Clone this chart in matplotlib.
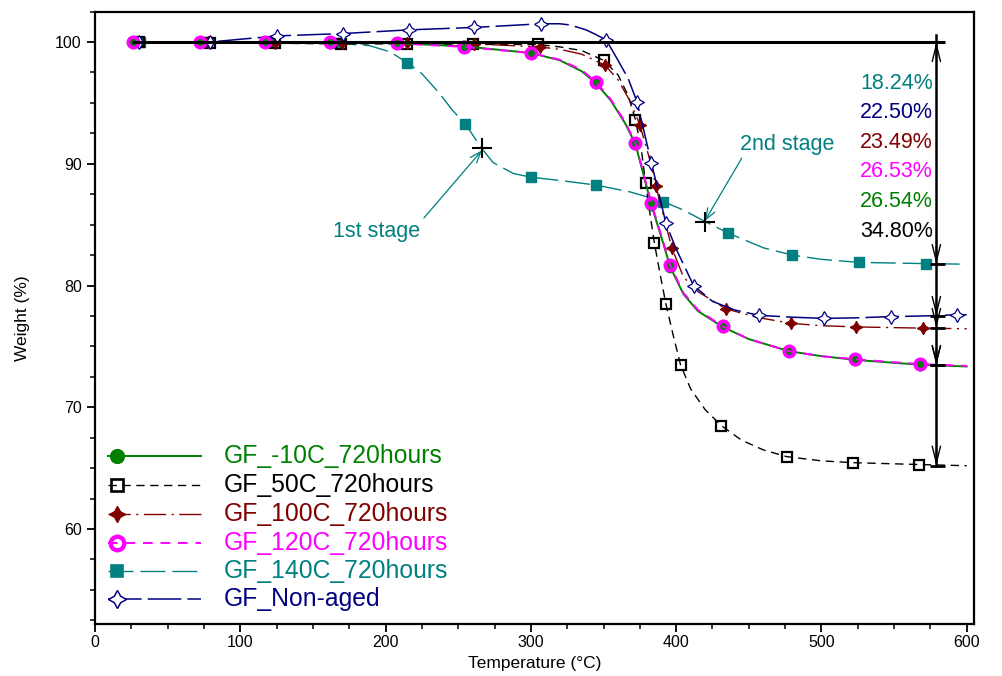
import matplotlib
matplotlib.use("Agg")
import matplotlib.pyplot as plt
from matplotlib.ticker import MultipleLocator

plt.rcParams['font.family'] = ['Liberation Sans', 'DejaVu Sans']

# ---------------- data ----------------
labels = ["GF_-10C_720hours", "GF_50C_720hours", "GF_100C_720hours",
          "GF_120C_720hours", "GF_140C_720hours", "GF_Non-aged"]

T_m10 = [26, 72, 117, 162, 208, 254, 300, 320, 335, 345, 355, 365, 372, 378, 383,
         390, 396, 405, 415, 432, 450, 478, 500, 523, 550, 568, 600]
W_m10 = [100, 100, 100, 99.95, 99.9, 99.65, 99.1, 98.5, 97.6, 96.6, 95.2, 93.3, 91.6,
         88.9, 86.6, 83.9, 81.5, 79.3, 77.9, 76.6, 75.6, 74.6, 74.2, 73.9, 73.65, 73.5, 73.35]
mk_m10 = [26, 72, 117, 162, 208, 254, 300, 345, 372, 383, 396, 432, 478, 523, 568]

T_50 = [30, 79, 124, 169, 215, 260, 305, 320, 335, 350, 360, 367, 372, 376, 379, 382,
        385, 389, 393, 398, 403, 410, 420, 431, 445, 460, 476, 500, 522, 567, 600]
W_50 = [100, 99.95, 99.9, 99.85, 99.85, 99.8, 99.8, 99.6, 99.3, 98.5, 97.3, 95.6, 93.6,
        91.2, 88.4, 85.9, 83.5, 80.9, 78.45, 75.9, 73.5, 71.5, 69.8, 68.5, 67.3, 66.5,
        65.95, 65.6, 65.45, 65.3, 65.2]
mk_50 = [30, 79, 124, 169, 215, 260, 305, 350, 372, 379, 385, 393, 403, 431, 476, 522, 567]

T_100 = [30, 78, 124, 170, 215, 261, 306, 320, 335, 351, 360, 368, 375, 381, 386, 392,
         397, 405, 415, 434, 455, 479, 500, 524, 570, 600]
W_100 = [100, 100, 99.95, 99.9, 99.9, 99.85, 99.6, 99.4, 99.0, 98.1, 96.9, 95.2, 93.2,
         90.7, 88.2, 85.4, 83.1, 80.7, 79.5, 78.1, 77.4, 76.9, 76.7, 76.6, 76.5, 76.45]
mk_100 = [30, 78, 124, 170, 215, 261, 306, 351, 375, 386, 397, 434, 479, 524, 570]

T_120 = [26, 72, 117, 162, 208, 254, 300, 320, 335, 345, 355, 365, 372, 378, 383,
         390, 396, 405, 415, 432, 450, 478, 500, 523, 550, 568, 600]
W_120 = [100, 100, 100, 100, 99.9, 99.6, 99.1, 98.55, 97.7, 96.7, 95.3, 93.4, 91.7,
         89.0, 86.75, 84.0, 81.65, 79.4, 78.0, 76.65, 75.6, 74.6, 74.2, 73.95, 73.7, 73.55, 73.4]
mk_120 = [26, 72, 117, 162, 208, 254, 300, 345, 372, 383, 396, 432, 478, 523, 568]

T_140 = [31, 77, 122, 167, 189, 203, 215, 225, 237, 246, 255, 266, 274, 288, 300, 322,
         345, 368, 391, 405, 420, 436, 460, 480, 500, 526, 572, 600]
W_140 = [100, 100, 100, 99.9, 99.7, 99.2, 98.3, 97.4, 95.8, 94.4, 93.25, 91.3, 90.1,
         89.2, 88.9, 88.6, 88.25, 87.7, 86.9, 86.2, 85.25, 84.3, 83.1, 82.5, 82.15, 81.9,
         81.8, 81.75]
mk_140 = [31, 77, 122, 167, 215, 255, 300, 345, 391, 436, 480, 526, 572]

T_na = [30, 79, 125, 171, 216, 261, 307, 320, 327, 338, 345, 352, 359, 367, 373, 378,
        383, 388, 393, 400, 412, 425, 440, 457, 480, 502, 525, 548, 570, 593, 600]
W_na = [100, 100.0, 100.5, 100.7, 101.0, 101.2, 101.5, 101.5, 101.4, 101.0, 100.6,
        100.15, 98.7, 97.0, 95.1, 92.6, 90.05, 87.6, 85.1, 83.0, 80.0, 78.7, 78.0, 77.55,
        77.4, 77.3, 77.35, 77.45, 77.5, 77.6, 77.6]
mk_na = [30, 79, 125, 171, 216, 261, 307, 352, 373, 383, 393, 412, 457, 502, 548, 593]

# onset points of the two degradation stages (140C sample)
stage_T = [266.3, 419.7]
stage_W = [91.3, 85.2]
stage_names = ["1st stage", "2nd stage"]

# residual levels and mass-loss labels (teal, navy, red, magenta, green, black)
resid_levels = [81.76, 77.50, 76.51, 73.47, 73.46, 65.20]
loss_labels = ["18.24%", "22.50%", "23.49%", "26.53%", "26.54%", "34.80%"]

# ---------------- styles ----------------
C_GREEN = "#008000"
C_BLACK = "#000000"
C_RED = "#800000"
C_MAG = "#FF00FF"
C_TEAL = "#008080"
C_NAVY = "#000080"
STAR4 = (4, 1, 0)

series = [
    dict(T=T_m10, W=W_m10, mk=mk_m10, color=C_GREEN, ls="-", lw=1.4,
         marker="o", ms=7.5, mfc=C_GREEN, mec=C_GREEN, mew=1, z=6),
    dict(T=T_50, W=W_50, mk=mk_50, color=C_BLACK, ls=(0, (6, 4)), lw=1.0,
         marker="s", ms=7, mfc="none", mec=C_BLACK, mew=1.6, z=4),
    dict(T=T_100, W=W_100, mk=mk_100, color=C_RED, ls=(0, (16, 4, 1.5, 4)), lw=1.0,
         marker=STAR4, ms=9, mfc=C_RED, mec=C_RED, mew=0.8, z=5),
    dict(T=T_120, W=W_120, mk=mk_120, color=C_MAG, ls=(0, (5, 4)), lw=1.4,
         marker="o", ms=7.5, mfc="none", mec=C_MAG, mew=2.6, z=7),
    dict(T=T_140, W=W_140, mk=mk_140, color=C_TEAL, ls=(0, (18, 5)), lw=1.0,
         marker="s", ms=6.5, mfc=C_TEAL, mec=C_TEAL, mew=1, z=3),
    dict(T=T_na, W=W_na, mk=mk_na, color=C_NAVY, ls=(0, (22, 4)), lw=1.1,
         marker=STAR4, ms=10, mfc="white", mec=C_NAVY, mew=0.9, z=5),
]

fig = plt.figure(figsize=(10.02, 6.76), dpi=100)
ax = fig.add_axes([95 / 1002, 52 / 676, 879 / 1002, 612.4 / 676])

for s in series:
    idx = [s["T"].index(t) for t in s["mk"]]
    ax.plot(s["T"], s["W"], color=s["color"], ls=s["ls"], lw=s["lw"],
            marker=s["marker"], markevery=idx, ms=s["ms"], mfc=s["mfc"],
            mec=s["mec"], mew=s["mew"], zorder=s["z"])

# onset crosses
ax.plot(stage_T, stage_W, ls="none", marker="+", ms=14, mew=1.5, color="black", zorder=9)

# stage annotations
ax.text(163.8, 84.4, stage_names[0], color=C_TEAL, fontsize=15.5, va="center", ha="left")
ax.annotate("", xy=(stage_T[0], stage_W[0] - 0.2), xytext=(226.4, 85.55),
            arrowprops=dict(arrowstyle="->,head_length=0.8,head_width=0.3",
                            color=C_TEAL, lw=0.9, shrinkA=0, shrinkB=0), zorder=8)
ax.text(443.8, 91.55, stage_names[1], color=C_TEAL, fontsize=15.5, va="center", ha="left")
ax.annotate("", xy=(stage_T[1], stage_W[1] + 0.1), xytext=(445.2, 90.47),
            arrowprops=dict(arrowstyle="->,head_length=0.8,head_width=0.3",
                            color=C_TEAL, lw=0.9, shrinkA=0, shrinkB=0), zorder=8)

# reference line at 100 % and the measurement bar
ax.plot([25.5, 585], [100, 100], color="black", lw=2.2, zorder=10, solid_capstyle="butt")
Tv = 579.1
ax.plot([Tv, Tv], [100.6, resid_levels[-1]], color="black", lw=1.8, zorder=10)
ax.annotate("", xy=(Tv, 100), xytext=(Tv, 98.6),
            arrowprops=dict(arrowstyle="->,head_length=1.2,head_width=0.3",
                            color="black", lw=1.0, shrinkA=0, shrinkB=0), zorder=10)
for lev in resid_levels:
    ax.annotate("", xy=(Tv, lev), xytext=(Tv, lev + 1.4),
                arrowprops=dict(arrowstyle="->,head_length=1.2,head_width=0.3",
                                color="black", lw=1.0, shrinkA=0, shrinkB=0), zorder=10)
    ax.plot([574.5, 585], [lev, lev], color="black", lw=2.0, zorder=10,
            solid_capstyle="butt")

label_colors = [C_TEAL, C_NAVY, C_RED, C_MAG, C_GREEN, C_BLACK]
for i, (txt, c) in enumerate(zip(loss_labels, label_colors)):
    ax.text(576.6, 96.62 - 2.43 * i, txt, color=c, fontsize=15.5,
            ha="right", va="center", zorder=11)

# manual legend (marker at the left end of each sample line)
rows_y = [0.2743, 0.2270, 0.1796, 0.1323, 0.0865, 0.0408]
for s, lab, y in zip(series, labels, rows_y):
    ax.plot([0.0148, 0.121], [y, y], transform=ax.transAxes, color=s["color"],
            ls=s["ls"], lw=s["lw"], clip_on=False, zorder=12)
    ax.plot([0.025], [y], transform=ax.transAxes, ls="none", marker=s["marker"],
            ms=s["ms"] * 1.3, mfc=s["mfc"], mec=s["mec"], mew=s["mew"] * 1.2,
            clip_on=False, zorder=13)
    ax.text(0.147, y, lab, transform=ax.transAxes, color=s["color"], fontsize=17.8,
            va="center", ha="left", zorder=13)

# axes
ax.set_xlim(0, 605)
ax.set_ylim(52.2, 102.5)
ax.xaxis.set_major_locator(MultipleLocator(100))
ax.xaxis.set_minor_locator(MultipleLocator(25))
ax.yaxis.set_major_locator(MultipleLocator(10))
ax.yaxis.set_minor_locator(MultipleLocator(2.5))
ax.set_yticks([60, 70, 80, 90, 100])
ax.tick_params(axis="both", which="major", direction="out", length=6, width=1.3,
               labelsize=11.5, top=False, right=False)
ax.tick_params(axis="x", which="major", pad=2)
ax.tick_params(axis="both", which="minor", direction="out", length=3.5, width=1.1,
               top=False, right=False)
for lab in ax.get_xticklabels() + ax.get_yticklabels():
    lab.set_family(["Liberation Sans Narrow", "Liberation Sans"])
for sp in ax.spines.values():
    sp.set_linewidth(1.6)

ax.set_xlabel("Temperature (°C)", fontsize=12.5, labelpad=4,
              family=["Liberation Sans Narrow", "Liberation Sans"])
ax.set_ylabel("Weight (%)", fontsize=12.5, labelpad=18,
              family=["Liberation Sans Narrow", "Liberation Sans"])

fig.savefig("out.png", dpi=100)
